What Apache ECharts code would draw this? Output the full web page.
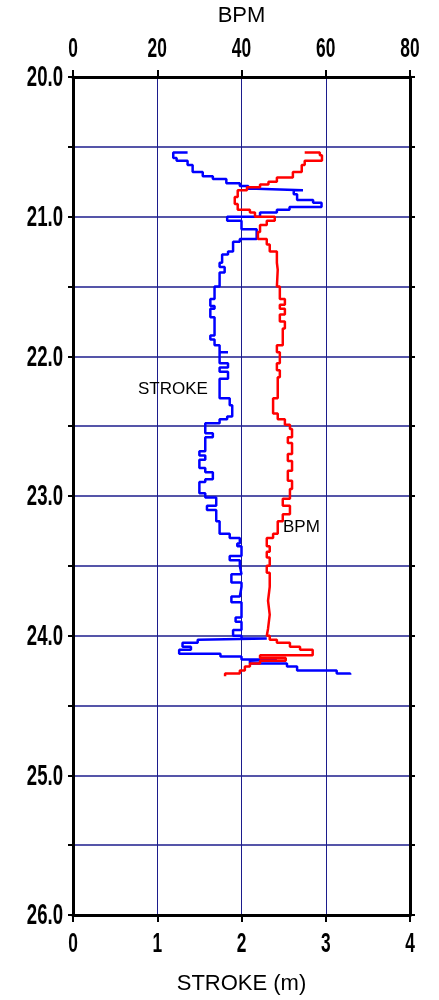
<!DOCTYPE html>
<html>
<head>
<meta charset="utf-8">
<script src="https://cdn.jsdelivr.net/npm/echarts@6/dist/echarts.min.js"></script>
<style>
  html, body { margin: 0; padding: 0; background: #fff; }
  #main { width: 439px; height: 1000px; }
</style>
</head>
<body>
<div id="main"></div>
<script>
var strokeDepth = [20.54, 20.54, 20.58, 20.60, 20.63, 20.68, 20.71, 20.73, 20.76, 20.78, 20.80, 20.81, 20.81, 20.84,
  20.88, 20.90, 20.93, 20.95, 20.97, 21.00, 21.03, 21.09, 21.16, 21.18, 21.25, 21.27, 21.33, 21.36, 21.40, 21.45,
  21.50, 21.59, 21.64, 21.66, 21.72, 21.75, 21.85, 21.88, 21.92, 21.97, 21.97, 21.99, 22.05, 22.08, 22.11, 22.16,
  22.19, 22.30, 22.35, 22.43, 22.45, 22.48, 22.50, 22.55, 22.58, 22.60, 22.68, 22.71, 22.74, 22.80, 22.83, 22.88,
  22.90, 22.98, 23.01, 23.07, 23.10, 23.14, 23.18, 23.20, 23.27, 23.30, 23.34, 23.36, 23.43, 23.46, 23.50, 23.56,
  23.62, 23.65, 23.72, 23.76, 23.80, 23.87, 23.90, 23.96, 24.00, 24.02, 24.03, 24.05, 24.08, 24.10, 24.13, 24.15,
  24.17, 24.18, 24.20, 24.22, 24.25, 24.27, 24.28];
var strokeVal = [1.36, 1.19, 1.19, 1.23, 1.36, 1.42, 1.54, 1.66, 1.82, 1.98, 2.08, 2.18, 2.73, 2.62,
  2.66, 2.85, 2.95, 2.57, 2.42, 2.22, 1.83, 2.00, 2.18, 1.98, 1.90, 1.84, 1.77, 1.74, 1.80, 1.74,
  1.74, 1.68, 1.63, 1.68, 1.63, 1.68, 1.68, 1.63, 1.68, 1.74, 1.84, 1.74, 1.74, 1.84, 1.74, 1.84,
  1.74, 1.74, 1.86, 1.89, 1.83, 1.74, 1.57, 1.57, 1.66, 1.57, 1.57, 1.50, 1.57, 1.50, 1.57, 1.66,
  1.57, 1.50, 1.57, 1.70, 1.59, 1.70, 1.70, 1.74, 1.74, 1.86, 1.98, 1.95, 2.00, 1.86, 1.98, 2.00,
  1.88, 2.00, 1.98, 1.88, 2.00, 2.00, 1.93, 2.00, 1.90, 2.00, 2.30, 1.48, 1.30, 1.40, 1.26, 1.75,
  2.00, 2.42, 2.10, 2.54, 2.66, 3.13, 3.29];

var bpmDepth = [20.54, 20.56, 20.60, 20.60, 20.63, 20.68, 20.72, 20.75, 20.77, 20.79, 20.81, 20.83, 20.86, 20.91,
  20.95, 20.97, 21.00, 21.03, 21.06, 21.11, 21.16, 21.20, 21.25, 21.33, 21.38, 21.50, 21.59, 21.63, 21.66, 21.70,
  21.75, 21.80, 21.92, 21.97, 22.05, 22.10, 22.15, 22.30, 22.35, 22.41, 22.45, 22.49, 22.52, 22.58, 22.62, 22.70,
  22.75, 22.82, 22.89, 22.95, 23.02, 23.07, 23.13, 23.18, 23.27, 23.30, 23.36, 23.40, 23.44, 23.50, 23.55, 23.65,
  23.75, 23.85, 23.95, 24.00, 24.03, 24.05, 24.08, 24.10, 24.14, 24.16, 24.18, 24.20, 24.22, 24.25, 24.27, 24.29];
var bpmVal = [55.0, 58.6, 59.1, 56.9, 55.0, 54.3, 52.2, 48.4, 46.4, 44.4, 41.3, 39.1, 39.1, 38.4,
  39.1, 42.0, 43.2, 47.9, 46.0, 44.4, 43.9, 46.0, 46.7, 48.4, 48.6, 48.4, 49.1, 50.3, 49.1, 50.3,
  49.1, 50.3, 49.8, 48.4, 49.1, 48.4, 49.1, 48.6, 47.5, 47.5, 48.6, 50.3, 51.5, 52.0, 51.0, 52.0,
  51.0, 52.0, 51.0, 52.0, 51.5, 49.8, 51.5, 49.8, 48.6, 47.5, 46.0, 46.7, 46.0, 46.7, 46.0, 46.7,
  46.3, 46.7, 46.3, 46.0, 46.7, 48.4, 51.5, 53.9, 56.9, 44.4, 50.5, 44.4, 42.0, 40.8, 39.6, 36.1];

// tick labels
var depthTicks = [20, 21, 22, 23, 24, 25, 26];
var bpmTicks = [0, 20, 40, 60, 80];
var strokeTicks = [0, 1, 2, 3, 4];

var depthMin = 20, depthMax = 26;

var myChart = echarts.init(document.getElementById('main'));

var navy = '#1c1c8c';

var option = {
  animation: false,
  backgroundColor: '#fff',
  grid: { left: 73, right: 29, top: 74, bottom: 84 },
  xAxis: [
    {
      type: 'value', position: 'bottom', min: 0, max: 4, interval: 1,
      name: 'STROKE (m)', nameLocation: 'middle', nameGap: 58,
      nameTextStyle: { fontFamily: 'Liberation Sans', fontSize: 22, color: '#000' },
      axisLine: { show: true, onZero: false, lineStyle: { color: '#000', width: 3 } },
      axisTick: { show: true, inside: false, length: 7, lineStyle: { color: '#000', width: 2 } },
      axisLabel: { show: false },
      splitLine: { show: true, lineStyle: { color: navy, width: 1 } }
    },
    {
      type: 'value', position: 'top', min: 0, max: 80, interval: 20,
      name: 'BPM', nameLocation: 'middle', nameGap: 50,
      nameTextStyle: { fontFamily: 'Liberation Sans', fontSize: 22, color: '#000' },
      axisLine: { show: true, onZero: false, lineStyle: { color: '#000', width: 3 } },
      axisTick: { show: true, inside: false, length: 7, lineStyle: { color: '#000', width: 2 } },
      axisLabel: { show: false },
      splitLine: { show: false }
    }
  ],
  yAxis: [
    {
      type: 'value', position: 'left', inverse: true, min: depthMin, max: depthMax, interval: 0.5,
      axisLine: { show: true, onZero: false, lineStyle: { color: '#000', width: 3 } },
      axisTick: { show: true, length: 5, lineStyle: { color: '#000', width: 2 } },
      axisLabel: { show: false },
      splitLine: { show: true, lineStyle: { color: navy, width: 1.6 } }
    },
    {
      type: 'value', position: 'right', inverse: true, min: depthMin, max: depthMax, interval: 0.5,
      axisLine: { show: true, onZero: false, lineStyle: { color: '#000', width: 3 } },
      axisTick: { show: true, length: 5, lineStyle: { color: '#000', width: 2 } },
      axisLabel: { show: false },
      splitLine: { show: false }
    }
  ],
  series: [
    {
      name: 'STROKE', type: 'line', xAxisIndex: 0, yAxisIndex: 0,
      data: strokeDepth.map(function (d, i) { return [strokeVal[i], d]; }),
      symbol: 'none', step: 'end',
      lineStyle: { color: '#0000ff', width: 2.5 },
      z: 3
    },
    {
      name: 'BPM', type: 'line', xAxisIndex: 1, yAxisIndex: 0,
      data: bpmDepth.map(function (d, i) { return [bpmVal[i], d]; }),
      symbol: 'none', step: 'end',
      lineStyle: { color: '#ff0000', width: 2.5 },
      z: 4
    }
  ]
};

myChart.setOption(option);

// condensed bold tick labels, placed through the axes' own scales
function narrowLabel(text, x, y, size, align) {
  return {
    type: 'text', x: x, y: y, scaleX: 0.62, silent: true,
    style: {
      text: text, fontFamily: 'Liberation Sans', fontWeight: 'bold', fontSize: size, fill: '#000',
      align: align, verticalAlign: 'middle', textAlign: align, textVerticalAlign: 'middle'
    }
  };
}
var labels = [];
depthTicks.forEach(function (v) {
  var py = myChart.convertToPixel({ yAxisIndex: 0 }, v);
  labels.push(narrowLabel(v.toFixed(1), 63, py + 1, 30, 'right'));
});
bpmTicks.forEach(function (v) {
  var px = myChart.convertToPixel({ xAxisIndex: 1 }, v);
  labels.push(narrowLabel(String(v), px, 49, 28, 'center'));
});
strokeTicks.forEach(function (v) {
  var px = myChart.convertToPixel({ xAxisIndex: 0 }, v);
  labels.push(narrowLabel(String(v), px, 944, 28, 'center'));
});
labels.push({ type: 'text', x: 138, y: 389, silent: true,
  style: { text: 'STROKE', fontFamily: 'Liberation Sans', fontSize: 17, fill: '#000', verticalAlign: 'middle', textVerticalAlign: 'middle' } });
labels.push({ type: 'text', x: 283, y: 527, silent: true,
  style: { text: 'BPM', fontFamily: 'Liberation Sans', fontSize: 17, fill: '#000', verticalAlign: 'middle', textVerticalAlign: 'middle' } });

myChart.setOption({ graphic: labels });
</script>
</body>
</html>
